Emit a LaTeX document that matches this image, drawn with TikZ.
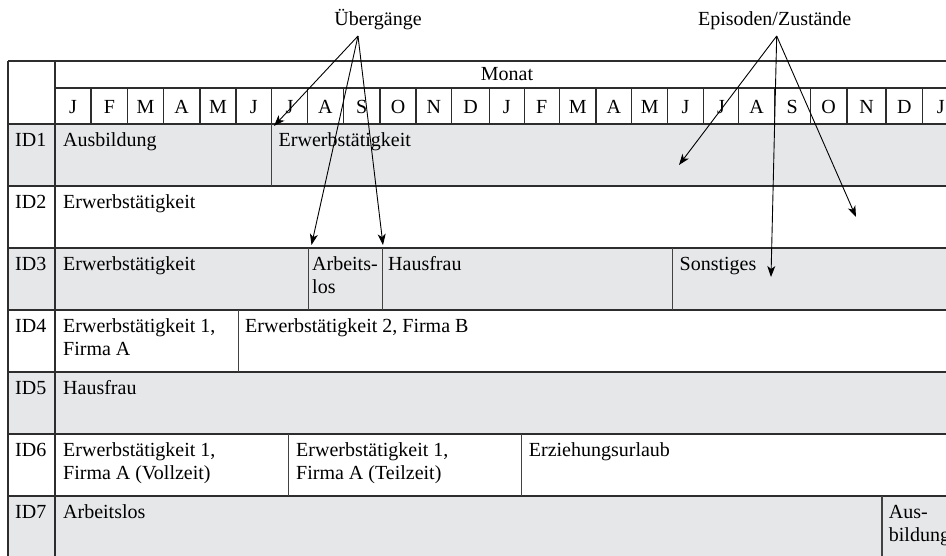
\documentclass[tikz,border=0pt]{standalone}
\usepackage{fontspec}
\setmainfont{Liberation Serif}
\usetikzlibrary{arrows.meta}
\definecolor{rowgray}{RGB}{230,231,233}
\definecolor{linec}{RGB}{45,45,45}
\begin{document}
\begin{tikzpicture}[x=1pt,y=-1pt,
  grid/.style={draw=linec, line width=1.3pt},
  seg/.style={draw=linec!90, line width=1.3pt},
  txt/.style={anchor=base west, inner sep=0pt, align=left, font=\fontsize{20}{23}\selectfont},
  txtb/.style={txt, yshift=-23pt},
  mon/.style={anchor=base, inner sep=0pt, font=\fontsize{20}{23}\selectfont},
  lbl/.style={anchor=base, inner sep=0pt, font=\fontsize{20}{23}\selectfont},
  arr/.style={-{Stealth[length=11pt,width=8pt,inset=3pt]}, line width=0.9pt, draw=black}]
\useasboundingbox (0,0) rectangle (946,555);
\clip (0,0) rectangle (946,555);
% shaded rows
\foreach \t in {124,248,372,496} \fill[rowgray] (8,\t) rectangle (960,\t+62);
% header lines
\draw[grid] (8,61) -- (960,61);
\draw[grid] (55,88) -- (960,88);
\foreach \y in {124,186,248,310,372,434,496} \draw[grid] (8,\y) -- (960,\y);
\draw[grid] (8,61) -- (8,560);
\draw[grid] (55,61) -- (55,560);
% months
\node[lbl] (monat) at (507,80) {Monat};
\foreach \l/\r/\m [count=\i] in {55/91/J, 91/127.7/F, 127.7/163.3/M, 163.3/200/A, 200/236/M, 236/271.7/J, 271.7/307.3/J, 307.3/343.3/A, 343.3/380/S, 380/416/O, 416/451.7/N, 451.7/489.3/D, 489.3/524.3/J, 524.3/559.3/F, 559.3/596/M, 596/631.7/A, 631.7/667.7/M, 667.7/703.3/J, 703.3/738.7/J, 738.7/774.3/A, 774.3/810.3/S, 810.3/847/O, 847/886/N, 886/922.7/D, 922.7/959/J}
{
  \draw[grid] (\r,88) -- (\r,124);
  \node[mon] (m\i) at ({(\l+\r)/2},113) {\m};
}
% episode borders
\draw[seg] (271.7,124) -- (271.7,186);
\draw[seg] (308.3,248) -- (308.3,310);
\draw[seg] (382.3,248) -- (382.3,310);
\draw[seg] (672.7,248) -- (672.7,310);
\draw[seg] (238.3,310) -- (238.3,372);
\draw[seg] (288.3,434) -- (288.3,496);
\draw[seg] (521.7,434) -- (521.7,496);
\draw[seg] (882,496) -- (882,560);
% row labels
\node[txt] (id1) at (15,146.7) {ID1};
\node[txt] (id2) at (15,208.7) {ID2};
\node[txt] (id3) at (15,270.7) {ID3};
\node[txt] (id4) at (15,332.7) {ID4};
\node[txt] (id5) at (15,394.7) {ID5};
\node[txt] (id6) at (15,456.7) {ID6};
\node[txt] (id7) at (15,518.7) {ID7};
% episodes
\node[txt] (e1a) at (63,146.7) {Ausbildung};
\node[txt] (e1b) at (278.5,146.7) {Erwerbstätigkeit};
\node[txt] (e2a) at (63,208.7) {Erwerbstätigkeit};
\node[txt] (e3a) at (63,270.7) {Erwerbstätigkeit};
\node[txtb] (e3b) at (312,270.7) {Arbeits-\\los};
\node[txt] (e3c) at (388,270.7) {Hausfrau};
\node[txt] (e3d) at (679.5,270.7) {Sonstiges};
\node[txtb] (e4a) at (63,332.7) {Erwerbstätigkeit 1,\\Firma A};
\node[txt] (e4b) at (245,332.7) {Erwerbstätigkeit 2, Firma B};
\node[txt] (e5a) at (63,394.7) {Hausfrau};
\node[txtb] (e6a) at (63,456.7) {Erwerbstätigkeit 1,\\Firma A (Vollzeit)};
\node[txtb] (e6b) at (296,456.7) {Erwerbstätigkeit 1,\\Firma A (Teilzeit)};
\node[txt] (e6c) at (528.7,456.7) {Erziehungsurlaub};
\node[txt] (e7a) at (63,518.7) {Arbeitslos};
\node[txtb] (e7b) at (888.7,518.7) {Aus-\\bildung};
% callouts
\node[lbl] (ueb) at (378,25) {Übergänge};
\node[lbl] (epi) at (774.7,25) {Episoden/Zustände};
\coordinate (ueo) at (358,36);
\coordinate (epo) at (776.7,36);
\coordinate (u1) at (274,126);
\coordinate (u2) at (311.5,245);
\coordinate (u3) at (383,245);
\coordinate (p1) at (679,165);
\coordinate (p2) at (771,277);
\coordinate (p3) at (856,217);
\draw[arr] (ueo) -- (u1);
\draw[arr] (ueo) -- (u2);
\draw[arr] (ueo) -- (u3);
\draw[arr] (epo) -- (p1);
\draw[arr] (epo) -- (p2);
\draw[arr] (epo) -- (p3);
\end{tikzpicture}
\end{document}
